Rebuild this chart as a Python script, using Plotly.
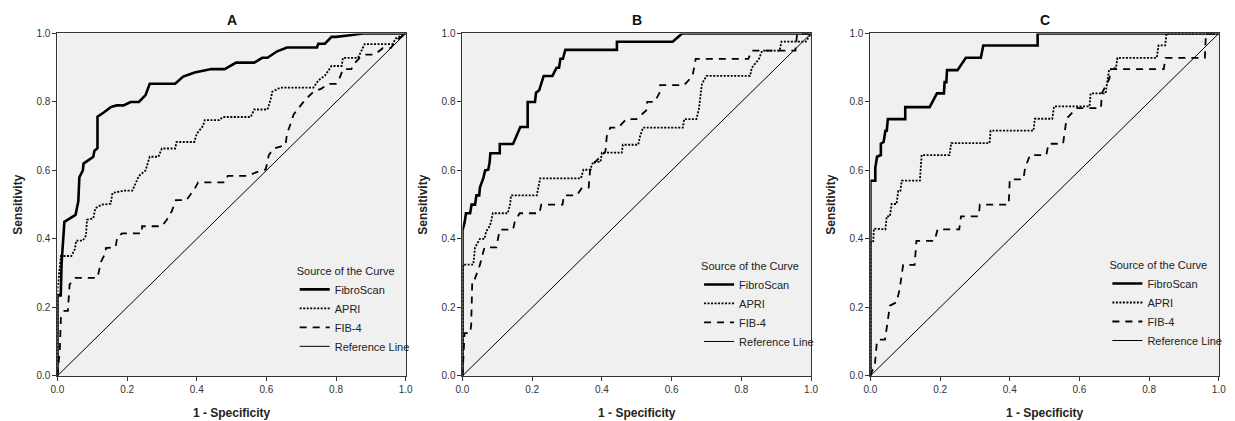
import plotly.graph_objects as go

# ---------------- data ----------------
SERIES = ["FibroScan", "APRI", "FIB-4", "Reference Line"]
PANELS = ["A", "B", "C"]
TICKS = [0.0, 0.2, 0.4, 0.6, 0.8, 1.0]
TICK_LABELS = ["0.0", "0.2", "0.4", "0.6", "0.8", "1.0"]

REF_X = [0.0, 1.0]
REF_Y = [0.0, 1.0]

# Panel A
A_FIBRO_X = [0, 0, 0.0095, 0.012, 0.02, 0.052, 0.06, 0.063, 0.073, 0.075, 0.103, 0.106, 0.115, 0.115,
             0.134, 0.153, 0.17, 0.19, 0.21, 0.234, 0.253, 0.265, 0.338, 0.361, 0.394, 0.442, 0.48,
             0.513, 0.565, 0.588, 0.603, 0.631, 0.659, 0.745, 0.749, 0.768, 0.787, 0.80, 0.84, 0.877, 1.0]
A_FIBRO_Y = [0, 0.235, 0.235, 0.33, 0.45, 0.47, 0.51, 0.58, 0.60, 0.62, 0.64, 0.657, 0.665, 0.757,
             0.77, 0.785, 0.79, 0.79, 0.80, 0.80, 0.82, 0.853, 0.853, 0.874, 0.886, 0.896, 0.896,
             0.915, 0.915, 0.929, 0.929, 0.948, 0.959, 0.959, 0.97, 0.97, 0.99, 0.99, 0.995, 1.0, 1.0]
A_APRI_X = [0, 0, 0.007, 0.01, 0.04, 0.05, 0.054, 0.073, 0.082, 0.085, 0.103, 0.109, 0.128, 0.153,
            0.158, 0.19, 0.215, 0.224, 0.234, 0.253, 0.265, 0.29, 0.30, 0.338, 0.342, 0.393, 0.40,
            0.418, 0.423, 0.465, 0.475, 0.555, 0.565, 0.603, 0.612, 0.617, 0.64, 0.735, 0.749, 0.768,
            0.787, 0.816, 0.82, 0.863, 0.882, 0.962, 0.972, 1.0]
A_APRI_Y = [0, 0.25, 0.32, 0.35, 0.35, 0.37, 0.395, 0.395, 0.41, 0.456, 0.46, 0.49, 0.50, 0.503,
            0.534, 0.541, 0.541, 0.56, 0.584, 0.60, 0.64, 0.64, 0.664, 0.664, 0.683, 0.683, 0.707,
            0.73, 0.747, 0.747, 0.756, 0.756, 0.778, 0.778, 0.806, 0.83, 0.842, 0.842, 0.863, 0.877,
            0.905, 0.905, 0.929, 0.929, 0.969, 0.969, 0.986, 1.0]
A_FIB4_X = [0, 0.007, 0.01, 0.02, 0.03, 0.035, 0.052, 0.115, 0.125, 0.139, 0.139, 0.167, 0.172, 0.186,
            0.243, 0.243, 0.30, 0.314, 0.328, 0.34, 0.37, 0.394, 0.404, 0.48, 0.489, 0.546, 0.574,
            0.598, 0.607, 0.621, 0.655, 0.659, 0.669, 0.678, 0.692, 0.711, 0.735, 0.758, 0.778,
            0.80, 0.811, 0.82, 0.844, 0.85, 0.868, 0.886, 0.91, 0.934, 0.957, 0.972, 0.986, 1.0]
A_FIB4_Y = [0, 0.078, 0.17, 0.19, 0.19, 0.267, 0.286, 0.286, 0.333, 0.361, 0.373, 0.376, 0.407, 0.416,
            0.416, 0.437, 0.437, 0.456, 0.48, 0.513, 0.513, 0.546, 0.565, 0.565, 0.584, 0.584, 0.596,
            0.603, 0.645, 0.664, 0.674, 0.707, 0.735, 0.763, 0.782, 0.806, 0.83, 0.839, 0.853,
            0.853, 0.872, 0.896, 0.896, 0.91, 0.929, 0.938, 0.938, 0.957, 0.957, 0.98, 0.99, 1.0]

# Panel B
B_FIBRO_X = [0, 0, 0.006, 0.01, 0.022, 0.026, 0.036, 0.04, 0.048, 0.05, 0.06, 0.065, 0.074, 0.078, 0.08,
             0.107, 0.107, 0.145, 0.166, 0.187, 0.187, 0.208, 0.211, 0.22, 0.233, 0.258, 0.27, 0.277,
             0.281, 0.288, 0.295, 0.443, 0.443, 0.603, 0.63, 1.0]
B_FIBRO_Y = [0, 0.425, 0.447, 0.475, 0.475, 0.50, 0.50, 0.527, 0.527, 0.55, 0.578, 0.60, 0.602, 0.625,
             0.65, 0.65, 0.677, 0.677, 0.727, 0.727, 0.80, 0.80, 0.827, 0.834, 0.876, 0.876, 0.90, 0.90,
             0.926, 0.926, 0.952, 0.952, 0.976, 0.976, 1.0, 1.0]
B_APRI_X = [0, 0, 0.003, 0.031, 0.036, 0.045, 0.05, 0.063, 0.068, 0.078, 0.082, 0.087, 0.13, 0.137,
            0.139, 0.213, 0.217, 0.223, 0.34, 0.347, 0.366, 0.375, 0.396, 0.40, 0.457, 0.46, 0.504,
            0.51, 0.518, 0.632, 0.636, 0.671, 0.678, 0.683, 0.687, 0.70, 0.825, 0.83, 0.85, 0.86,
            0.91, 0.915, 0.985, 1.0]
B_APRI_Y = [0, 0.305, 0.325, 0.325, 0.375, 0.39, 0.40, 0.40, 0.422, 0.437, 0.45, 0.475, 0.475, 0.503,
            0.527, 0.527, 0.552, 0.577, 0.577, 0.602, 0.602, 0.625, 0.625, 0.652, 0.652, 0.675, 0.675,
            0.702, 0.725, 0.725, 0.75, 0.75, 0.778, 0.823, 0.853, 0.876, 0.876, 0.90, 0.925, 0.95,
            0.95, 0.976, 0.976, 1.0]
B_FIB4_X = [0, 0.003, 0.006, 0.022, 0.025, 0.028, 0.033, 0.05, 0.06, 0.063, 0.097, 0.102, 0.107, 0.145,
            0.15, 0.164, 0.221, 0.226, 0.287, 0.291, 0.328, 0.343, 0.362, 0.366, 0.381, 0.41, 0.414,
            0.424, 0.447, 0.47, 0.499, 0.527, 0.53, 0.551, 0.565, 0.567, 0.636, 0.66, 0.664, 0.669,
            0.82, 0.83, 0.955, 0.96, 1.0]
B_FIB4_Y = [0, 0.05, 0.125, 0.125, 0.149, 0.276, 0.276, 0.324, 0.36, 0.375, 0.375, 0.40, 0.427, 0.427,
            0.45, 0.475, 0.475, 0.50, 0.50, 0.527, 0.527, 0.55, 0.55, 0.60, 0.625, 0.655, 0.70,
            0.725, 0.725, 0.75, 0.75, 0.775, 0.80, 0.80, 0.826, 0.849, 0.849, 0.876, 0.90, 0.926,
            0.926, 0.95, 0.95, 1.0, 1.0]

# Panel C
C_FIBRO_X = [0, 0, 0.014, 0.014, 0.019, 0.03, 0.03, 0.038, 0.043, 0.047, 0.05, 0.10, 0.10, 0.17, 0.191,
             0.211, 0.213, 0.218, 0.22, 0.25, 0.274, 0.317, 0.324, 0.48, 0.48, 1.0]
C_FIBRO_Y = [0, 0.57, 0.57, 0.607, 0.64, 0.645, 0.678, 0.683, 0.716, 0.716, 0.75, 0.75, 0.785, 0.785,
             0.825, 0.825, 0.858, 0.858, 0.893, 0.893, 0.929, 0.929, 0.965, 0.965, 1.0, 1.0]
C_APRI_X = [0, 0, 0.008, 0.01, 0.043, 0.047, 0.056, 0.061, 0.075, 0.08, 0.086, 0.09, 0.142, 0.147, 0.227,
            0.232, 0.342, 0.345, 0.468, 0.472, 0.522, 0.527, 0.629, 0.632, 0.675, 0.68, 0.685, 0.705,
            0.709, 0.822, 0.827, 0.846, 0.85, 1.0]
C_APRI_Y = [0, 0.39, 0.39, 0.43, 0.428, 0.466, 0.466, 0.502, 0.502, 0.54, 0.54, 0.57, 0.57, 0.645, 0.645,
            0.68, 0.68, 0.716, 0.716, 0.751, 0.751, 0.787, 0.787, 0.825, 0.825, 0.86, 0.893, 0.90,
            0.929, 0.929, 0.965, 0.965, 1.0, 1.0]
C_FIB4_X = [0, 0.013, 0.018, 0.023, 0.042, 0.051, 0.056, 0.075, 0.084, 0.094, 0.127, 0.132, 0.184, 0.193,
            0.255, 0.26, 0.311, 0.314, 0.397, 0.40, 0.439, 0.444, 0.458, 0.505, 0.511, 0.553, 0.563,
            0.591, 0.662, 0.664, 0.686, 0.69, 0.842, 0.847, 0.96, 0.963, 1.0]
C_FIB4_Y = [0, 0.035, 0.092, 0.106, 0.106, 0.177, 0.205, 0.215, 0.253, 0.324, 0.324, 0.394, 0.394, 0.428,
            0.428, 0.466, 0.466, 0.50, 0.50, 0.574, 0.574, 0.607, 0.645, 0.645, 0.678, 0.678, 0.751,
            0.782, 0.782, 0.825, 0.868, 0.896, 0.896, 0.929, 0.929, 1.0, 1.0]

PANEL_DATA = {
    "A": [(A_FIBRO_X, A_FIBRO_Y), (A_APRI_X, A_APRI_Y), (A_FIB4_X, A_FIB4_Y), (REF_X, REF_Y)],
    "B": [(B_FIBRO_X, B_FIBRO_Y), (B_APRI_X, B_APRI_Y), (B_FIB4_X, B_FIB4_Y), (REF_X, REF_Y)],
    "C": [(C_FIBRO_X, C_FIBRO_Y), (C_APRI_X, C_APRI_Y), (C_FIB4_X, C_FIB4_Y), (REF_X, REF_Y)],
}

# ---------------- styling ----------------
W, H = 1235, 421
FONT = "Liberation Sans, Arial, sans-serif"
LINE_STYLES = [
    dict(color="black", width=2.6, dash="solid"),
    dict(color="black", width=1.8, dash="2px,1.5px"),
    dict(color="black", width=1.8, dash="7px,6px"),
    dict(color="black", width=1.0, dash="solid"),
]
X_DOMAINS = [(51 / W, 403.3 / W), (460.7 / W, 813.3 / W), (873.3 / W, 1225.7 / W)]
Y_DOMAIN = (1 - 380.7 / H, 1 - 28.3 / H)
LEGEND_POS = [(291 / W, 1 - 262 / H), (700 / W, 1 - 257 / H), (1113 / W, 1 - 256 / H)]

fig = go.Figure()
annotations = []
for i, p in enumerate(PANELS):
    sfx = "" if i == 0 else str(i + 1)
    legend_name = "legend" if i == 0 else f"legend{i + 1}"
    for (xs, ys), name, style in zip(PANEL_DATA[p], SERIES, LINE_STYLES):
        fig.add_trace(go.Scatter(
            x=xs, y=ys, mode="lines", name=name, line=style,
            xaxis="x" + sfx, yaxis="y" + sfx, legend=legend_name,
            hoverinfo="skip",
        ))
    axis_common = dict(
        range=[0, 1], tickvals=TICKS, ticktext=TICK_LABELS,
        showline=True, linecolor="#333333", linewidth=1, mirror=True,
        ticks="outside", ticklen=4, tickcolor="#333333",
        showgrid=False, zeroline=False, fixedrange=True,
        tickfont=dict(family=FONT, size=10, color="#333333"),
    )
    fig.update_layout({
        "xaxis" + sfx: dict(axis_common, domain=list(X_DOMAINS[i]), anchor="y" + sfx,
                            title=dict(text="<b>1 - Specificity</b>", standoff=14,
                                       font=dict(family=FONT, size=12, color="#222222"))),
        "yaxis" + sfx: dict(axis_common, domain=list(Y_DOMAIN), anchor="x" + sfx,
                            title=dict(text="<b>Sensitivity</b>", standoff=11,
                                       font=dict(family=FONT, size=12, color="#222222"))),
        legend_name: dict(
            x=LEGEND_POS[i][0], y=LEGEND_POS[i][1], xanchor="left", yanchor="top",
            xref="paper", yref="paper",
            bgcolor="rgba(0,0,0,0)", borderwidth=0,
            font=dict(family=FONT, size=11, color="#222222"),
            title=dict(text="Source of the Curve", side="top",
                       font=dict(family=FONT, size=11, color="#222222")),
            itemwidth=30, tracegroupgap=0,
        ),
    })
    annotations.append(dict(
        text=f"<b>{p}</b>", x=(X_DOMAINS[i][0] + X_DOMAINS[i][1]) / 2, y=1 - 14 / H,
        xref="paper", yref="paper", showarrow=False, xanchor="center", yanchor="middle",
        font=dict(family=FONT, size=14, color="#111111"),
    ))

fig.update_layout(
    width=W, height=H, margin=dict(l=0, r=0, t=0, b=0),
    paper_bgcolor="white", plot_bgcolor="#f0f0f0",
    annotations=annotations, showlegend=True,
    font=dict(family=FONT),
)

fig.write_html(
    "out.html",
    config={"displayModeBar": False},
    post_script="document.body.style.margin='0';document.body.style.overflow='hidden';",
)
